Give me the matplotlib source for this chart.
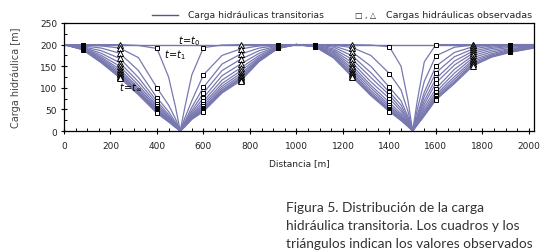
import matplotlib
matplotlib.use("Agg")
import matplotlib.pyplot as plt
from matplotlib.lines import Line2D
from matplotlib.ticker import MultipleLocator

# malla de distancias [m] (mitad izquierda y mitad derecha)
x_izq = [0, 80, 160, 240, 320, 400, 450, 480, 500, 520, 550, 600, 680, 760, 840, 920, 1000]
x_der = [1000, 1080, 1160, 1240, 1320, 1400, 1450, 1480, 1500, 1520, 1550, 1600, 1680, 1760, 1840, 1920, 2020]

# carga hidraulica transitoria [m], t1 ... t_inf
h_izq = [
    [200, 200, 200, 200, 198, 191, 125, 55, 0, 55, 130, 193, 199, 200, 200, 200, 200],
    [200, 199, 197, 192, 170, 100, 60, 28, 0, 30, 70, 130, 175, 190, 197, 199, 200],
    [200, 197, 192, 180, 140, 77, 45, 20, 0, 22, 55, 101, 155, 178, 192, 198, 200],
    [200, 195, 186, 168, 124, 69, 38, 17, 0, 19, 47, 88, 140, 166, 186, 197, 200],
    [200, 194, 180, 158, 114, 63, 34, 15, 0, 17, 42, 77, 128, 155, 180, 196, 200],
    [200, 193, 175, 150, 106, 58, 31, 14, 0, 15, 38, 69, 118, 146, 175, 195, 200],
    [200, 192, 171, 143, 100, 54, 28, 12, 0, 14, 35, 63, 110, 139, 171, 194, 200],
    [200, 191, 168, 138, 96, 51, 26, 11, 0, 13, 33, 58, 104, 133, 168, 193, 200],
    [200, 190, 165, 134, 92, 48, 25, 10, 0, 12, 31, 54, 99, 128, 166, 193, 200],
    [200, 190, 163, 131, 90, 46, 24, 10, 0, 11, 30, 51, 95, 124, 164, 192, 200],
    [200, 189, 161, 128, 88, 44, 23, 9, 0, 11, 29, 49, 92, 121, 163, 192, 200],
    [200, 189, 160, 126, 86, 43, 22, 9, 0, 10, 28, 47, 90, 119, 162, 191, 200],
    [200, 188, 158, 123, 84, 41, 21, 8, 0, 10, 27, 45, 88, 116, 161, 191, 200],
]
h_der = [
    [200, 200, 200, 200, 199, 195, 150, 70, 0, 70, 160, 200, 200, 200, 200, 200, 200],
    [200, 200, 199, 193, 175, 133, 95, 45, 0, 50, 115, 174, 194, 199, 200, 200, 200],
    [200, 200, 197, 183, 150, 101, 70, 33, 0, 37, 90, 150, 182, 195, 199, 200, 200],
    [200, 199, 194, 174, 135, 90, 60, 28, 0, 32, 80, 135, 172, 190, 197, 199, 200],
    [200, 199, 190, 166, 124, 83, 52, 24, 0, 28, 70, 121, 162, 185, 194, 198, 199],
    [200, 198, 187, 158, 114, 75, 46, 21, 0, 25, 62, 111, 153, 180, 191, 196, 198],
    [200, 198, 184, 151, 106, 66, 40, 18, 0, 22, 55, 98, 143, 175, 187, 194, 197],
    [200, 197, 181, 145, 100, 60, 36, 16, 0, 20, 49, 90, 134, 170, 183, 191, 196],
    [200, 197, 178, 140, 94, 56, 33, 15, 0, 18, 44, 84, 126, 165, 179, 189, 195],
    [200, 196, 175, 135, 89, 52, 30, 13, 0, 17, 40, 80, 120, 161, 176, 187, 194],
    [200, 196, 173, 131, 86, 49, 28, 12, 0, 16, 38, 77, 115, 157, 174, 185, 193],
    [200, 195, 171, 128, 84, 47, 26, 11, 0, 15, 36, 74, 112, 154, 172, 183, 192],
    [200, 195, 169, 125, 82, 45, 24, 10, 0, 14, 35, 72, 110, 151, 171, 182, 192],
]
h_inicial = 200

# pozos de observacion: indice en la malla y tipo de marcador
obs_idx = [1, 3, 5, 11, 13, 15]
obs_marker = ['s', '^', 's', 's', '^', 's']
obs_fill = ['black', 'white', 'white', 'white', 'white', 'black']

caption_lines = ["Figura 5. Distribución de la carga",
                 "hidráulica transitoria. Los cuadros y los",
                 "triángulos indican los valores observados"]

col = '#7878b0'

fig = plt.figure(figsize=(5.45, 2.51), dpi=100)
ax = fig.add_axes([0.1174, 0.4741, 0.8624, 0.4303])

ax.plot([x_izq[0], x_der[-1]], [h_inicial, h_inicial], color=col, lw=1.0)
for h in h_izq:
    ax.plot(x_izq, h, color=col, lw=0.9)
for h in h_der:
    ax.plot(x_der, h, color=col, lw=0.9)

for xs, hs in [(x_izq, h_izq), (x_der, h_der)]:
    for i, m, fc in zip(obs_idx, obs_marker, obs_fill):
        vals = [h[i] for h in hs]
        ms = 3.3 if m == 's' else 3.8
        ax.plot([xs[i]] * len(vals), vals, ls='none', marker=m, ms=ms,
                mfc=fc, mec='black', mew=0.7, zorder=5)

ax.text(537, 210, r'$t\!=\!t_0$', fontsize=7, ha='center', va='center')
ax.text(477, 178, r'$t\!=\!t_1$', fontsize=7, ha='center', va='center')
ax.text(289, 104, r'$t\!=\!t_\infty$', fontsize=7, ha='center', va='center')

ax.set_xlim(0, 2022)
ax.set_ylim(0, 250)
ax.set_xticks(range(0, 2001, 200))
ax.set_yticks(range(0, 251, 50))
ax.xaxis.set_minor_locator(MultipleLocator(50))
ax.yaxis.set_minor_locator(MultipleLocator(25))
ax.tick_params(which='major', direction='inout', length=4, width=0.8,
               labelsize=6.5, labelcolor='#222222', top=False, right=False)
ax.tick_params(which='minor', direction='in', length=2.5, width=0.7, top=False, right=False)
ax.tick_params(axis='x', pad=5)
ax.tick_params(axis='y', pad=3)
for s in ax.spines.values():
    s.set_linewidth(0.9)

ax.set_xlabel('Distancia [m]', fontsize=6.5, color='#222222', labelpad=6)
fig.text(0.028, 0.69, 'Carga hidráulica [m]', rotation=90, ha='center', va='center',
         fontsize=7, color='#444444', family=['Liberation Sans Narrow', 'DejaVu Sans'])

# leyenda
fig.add_artist(Line2D([0.279, 0.327], [0.9375, 0.9375], color='#55558f', lw=1.0))
fig.text(0.345, 0.9375, 'Carga hidráulicas transitorias', fontsize=6.6, va='center', color='#222222')
fig.text(0.652, 0.9375, '□ , △', fontsize=5.8, va='center', color='#222222')
fig.text(0.708, 0.9375, 'Cargas hidráulicas observadas', fontsize=6.8, va='center', color='#222222')

for k, line in enumerate(caption_lines):
    fig.text(0.5248, 0.171 - k * 0.0725, line, fontsize=9.9, va='center',
             color='#333333', family=['Lato', 'DejaVu Sans'])

fig.savefig('out.png', dpi=100)
